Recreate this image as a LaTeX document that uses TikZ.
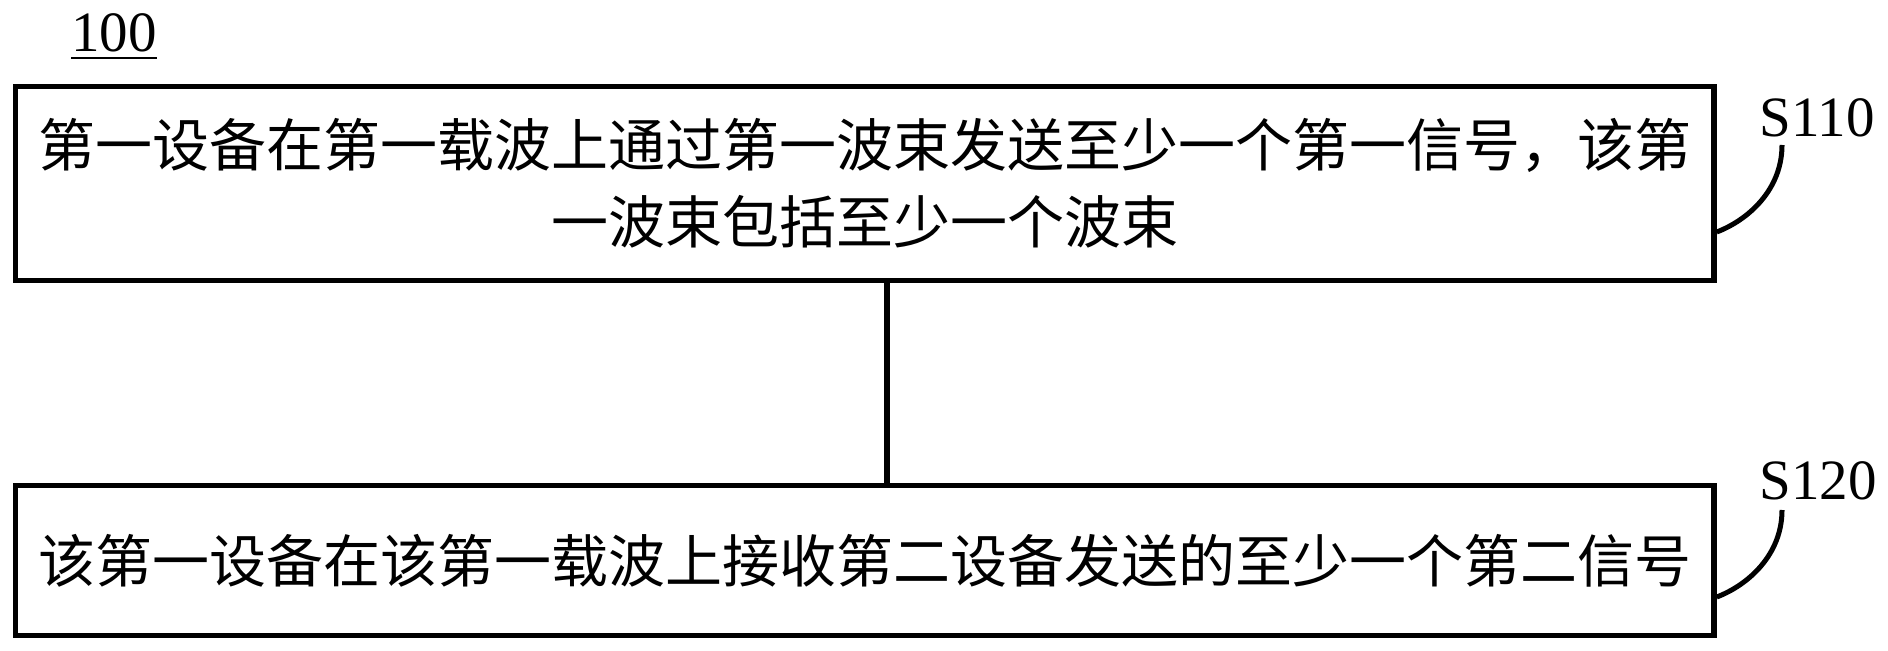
\documentclass[tikz,border=0pt]{standalone}
\usepackage{fontspec}
\setmainfont{Liberation Serif}
\newfontfamily\cjk{Noto Sans CJK SC}
\begin{document}
\begin{tikzpicture}[x=0.5pt,y=-0.5pt,
  stepbox/.style={draw,line width=2.75pt,rectangle,inner sep=0pt,align=center,
    font=\fontsize{28.5pt}{38.5pt}\selectfont\cjk},
  lbl/.style={inner sep=0pt,anchor=base west,font=\fontsize{28.5pt}{34pt}\selectfont},
  hook/.style={line width=2.5pt},
  conn/.style={line width=3pt}]
\useasboundingbox (0,0) rectangle (1888,651);
\node[lbl] (n100) at (71,52) {100};
\draw[line width=1.4pt] ([yshift=-3pt]n100.base west) -- ([yshift=-3pt]n100.base east);
\node[stepbox,minimum width=849.25pt,minimum height=97pt] (box1) at (864.75,183.5)
  {第一设备在第一载波上通过第一波束发送至少一个第一信号，该第\\一波束包括至少一个波束};
\node[stepbox,minimum width=849.25pt,minimum height=75pt] (box2) at (864.75,560.5)
  {该第一设备在该第一载波上接收第二设备发送的至少一个第二信号};
\draw[conn] ([xshift=10.9pt]box1.south) -- ([xshift=10.9pt]box2.north);
\node[lbl] (s110) at (1759,137) {S110};
\node[lbl] (s120) at (1759,500) {S120};
\coordinate (h1) at (1782,145);
\coordinate (h2) at (1782,510);
\draw[hook] ([yshift=-24.25pt]box1.east) .. controls (1748,220) and (1782,190) .. (h1);
\draw[hook] ([yshift=-18.25pt]box2.east) .. controls (1748,585) and (1782,555) .. (h2);
\end{tikzpicture}
\end{document}
